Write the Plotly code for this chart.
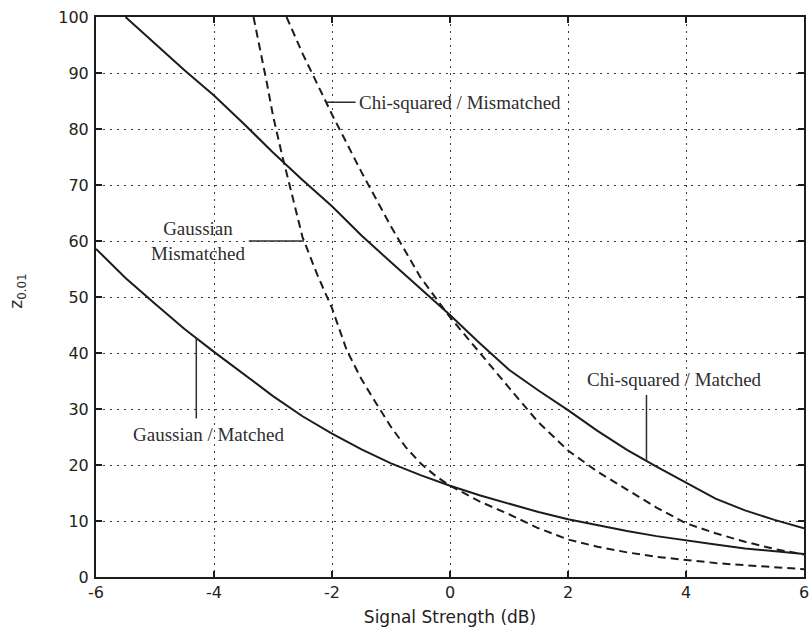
import numpy as np
import plotly.graph_objects as go

# Detection threshold z_0.01 versus signal strength (dB)
snr_chi_matched = [-5.5, -5, -4.5, -4, -3.5, -3, -2.5, -2, -1.5, -1, -0.5, 0,
                   0.5, 1, 1.5, 2, 2.5, 3, 3.5, 4, 4.5, 5, 5.5, 6]
z_chi_matched = [100, 95.2, 90.5, 86.0, 81.0, 75.8, 70.9, 66.2, 61.0, 56.2, 51.5, 46.8,
                 41.8, 37.0, 33.3, 29.8, 26.1, 22.7, 19.7, 16.8, 14.0, 11.9, 10.2, 8.7]

snr_gauss_matched = [-6, -5.5, -5, -4.5, -4, -3.5, -3, -2.5, -2, -1.5, -1, -0.5, 0,
                     0.5, 1, 1.5, 2, 2.5, 3, 3.5, 4, 4.5, 5, 5.5, 6]
z_gauss_matched = [58.6, 53.4, 48.8, 44.3, 40.2, 36.2, 32.3, 28.7, 25.6, 22.8, 20.3, 18.2, 16.3,
                   14.6, 13.1, 11.6, 10.3, 9.2, 8.2, 7.3, 6.5, 5.8, 5.1, 4.6, 4.1]

snr_gauss_mismatched = [-3.33, -3.2, -3.1, -3.0, -2.85, -2.7, -2.5, -2.25, -2.0, -1.75, -1.5,
                        -1.25, -1.0, -0.75, -0.5, -0.25, 0, 0.5, 1, 1.5, 2, 2.5, 3, 3.5, 4,
                        4.5, 5, 5.5, 6]
z_gauss_mismatched = [100, 93.5, 88.0, 82.4, 75.5, 69.2, 60.7, 54.0, 48.0, 40.5, 35.3,
                      31.0, 26.8, 23.2, 20.3, 18.1, 16.3, 13.5, 11.2, 8.7, 6.7, 5.4, 4.4, 3.6, 3.0,
                      2.5, 2.1, 1.7, 1.4]

snr_chi_mismatched = [-2.77, -2.5, -2.0, -1.5, -1.0, -0.5, 0, 0.5, 1, 1.5, 2, 2.5, 3,
                      3.5, 4, 4.5, 5, 5.5, 6]
z_chi_mismatched = [100, 93.5, 82.6, 72.3, 62.6, 53.5, 46.4, 40.0, 33.8, 27.6, 22.6, 18.8, 15.6,
                    12.4, 9.6, 7.8, 6.3, 5.0, 4.0]

x_ticks = [-6, -4, -2, 0, 2, 4, 6]
y_ticks = [0, 10, 20, 30, 40, 50, 60, 70, 80, 90, 100]

INK = "#1c1c1c"
TEXT = "#2e2e2e"
SERIF = "Liberation Serif, Times New Roman, serif"
SANS = "DejaVu Sans, Arial, sans-serif"

fig = go.Figure()
series = [
    ("Chi-squared / Matched", snr_chi_matched, z_chi_matched, "solid"),
    ("Gaussian / Matched", snr_gauss_matched, z_gauss_matched, "solid"),
    ("Gaussian / Mismatched", snr_gauss_mismatched, z_gauss_mismatched, "8px,5px"),
    ("Chi-squared / Mismatched", snr_chi_mismatched, z_chi_mismatched, "8px,5px"),
]
for name, xs, ys, dash in series:
    fig.add_trace(go.Scatter(x=xs, y=ys, mode="lines", name=name,
                             line=dict(color=INK, width=2, dash=dash),
                             hoverinfo="skip"))


def on_curve(xs, ys, x):
    return float(np.interp(x, xs, ys))


shapes = []
annotations = []

# Chi-squared / Mismatched: horizontal leader from the curve to the label
y_cmm = on_curve(snr_chi_mismatched, z_chi_mismatched, -2.1)
shapes.append(dict(type="line", x0=-2.1, x1=-1.6, y0=y_cmm, y1=y_cmm,
                   line=dict(color=TEXT, width=1.5)))
annotations.append(dict(x=-1.58, y=y_cmm, text="Chi-squared / Mismatched",
                        xanchor="left", yanchor="middle"))

# Gaussian / Mismatched: horizontal leader at z = 60
x_gmm = float(np.interp(60, z_gauss_mismatched[::-1], snr_gauss_mismatched[::-1]))
shapes.append(dict(type="line", x0=-3.41, x1=x_gmm, y0=60, y1=60,
                   line=dict(color=TEXT, width=1.5)))
annotations.append(dict(x=-4.27, y=60, text="Gaussian<br>Mismatched",
                        xanchor="center", yanchor="middle"))

# Gaussian / Matched: vertical leader below the curve
y_gm = on_curve(snr_gauss_matched, z_gauss_matched, -4.3)
shapes.append(dict(type="line", x0=-4.3, x1=-4.3, y0=y_gm, y1=28.3,
                   line=dict(color=TEXT, width=1.5)))
annotations.append(dict(x=-4.09, y=25.4, text="Gaussian / Matched",
                        xanchor="center", yanchor="middle"))

# Chi-squared / Matched: vertical leader above the curve
y_cm = on_curve(snr_chi_matched, z_chi_matched, 3.33)
shapes.append(dict(type="line", x0=3.33, x1=3.33, y0=y_cm, y1=32.5,
                   line=dict(color=TEXT, width=1.5)))
annotations.append(dict(x=3.81, y=35.2, text="Chi-squared / Matched",
                        xanchor="center", yanchor="middle"))

for a in annotations:
    a.update(xref="x", yref="y", showarrow=False,
             font=dict(family=SERIF, size=19, color=TEXT))

# Rotated y-axis label
annotations.append(dict(xref="paper", yref="paper", x=-0.111, y=0.51,
                        text="z<sub>0.01</sub>",
                        textangle=-90, showarrow=False, xanchor="center", yanchor="middle",
                        font=dict(family=SANS, size=17, color=TEXT)))

axis_common = dict(
    showline=True, linecolor=INK, linewidth=2, mirror="ticks",
    ticks="inside", ticklen=6, tickwidth=1.5, tickcolor=INK,
    showgrid=True, gridcolor="#3a3a3a", gridwidth=1.4, griddash="2px,5px",
    zeroline=False, tickfont=dict(family=SANS, size=16, color="#222"),
)

fig.update_layout(
    width=809, height=627,
    margin=dict(l=96, r=0, t=17, b=50),
    paper_bgcolor="white", plot_bgcolor="white",
    showlegend=False,
    shapes=shapes, annotations=annotations,
    xaxis=dict(range=[-6, 6], tickvals=x_ticks, ticktext=[str(v) for v in x_ticks],
               ticklabeloverflow="allow",
               title=dict(text="Signal Strength (dB)", standoff=10,
                          font=dict(family=SANS, size=17, color="#222")),
               **axis_common),
    yaxis=dict(range=[0, 100], tickvals=y_ticks, ticktext=[str(v) for v in y_ticks],
               ticklabelstandoff=2, **axis_common),
)

fig.write_html("out.html")
